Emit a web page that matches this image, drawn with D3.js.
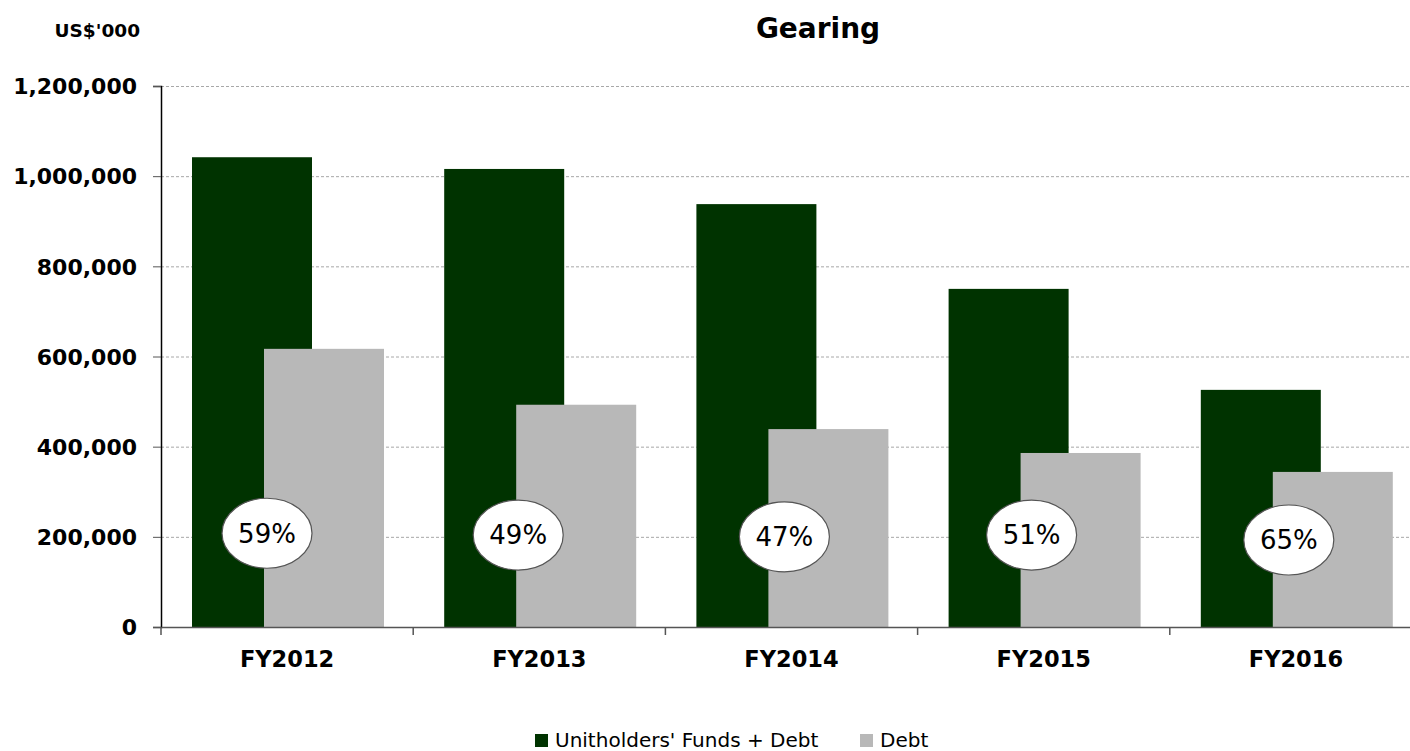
<!DOCTYPE html>
<html>
<head>
<meta charset="utf-8">
<script src="https://cdn.jsdelivr.net/npm/d3@7"></script>
<style>
  body { margin: 0; background: #fff; }
  svg { display: block; }
  text { font-family: "DejaVu Sans", Verdana, sans-serif; fill: #000; }
</style>
</head>
<body>
<svg width="1410" height="751"></svg>
<script>
// Gearing chart (US$'000)
var years = ['FY2012', 'FY2013', 'FY2014', 'FY2015', 'FY2016'];
var fundsPlusDebt = [1042000, 1016000, 938000, 750000, 526000];
var debt = [617000, 493000, 439000, 386000, 344000];
var gearingLabels = ['59%', '49%', '47%', '51%', '65%'];
var yTicks = [0, 200000, 400000, 600000, 800000, 1000000, 1200000];

// label bubbles sit around the 200,000 line, nudged a little per bar
var bubbleAt = [208000, 204000, 200000, 204000, 193000];
var bubbleNudge = [3, 2, 16, 11, 16];

var svg = d3.select("svg");

// plot box (note: "top" is taken by window.top)
var plotLeft = 161, plotRight = 1422, plotTop = 86, plotBottom = 627;

var x = d3.scaleBand().domain(years).range([plotLeft, plotRight]);
var y = d3.scaleLinear().domain([0, 1200000]).range([plotBottom, plotTop]);

var fmt = d3.format(",");

// gridlines
svg.append("g")
    .selectAll("line")
    .data(yTicks.filter(function (d) { return d > 0; }))
    .enter()
    .append("line")
    .attr("x1", plotLeft).attr("x2", plotRight)
    .attr("y1", function (d) { return y(d) + 0.5; })
    .attr("y2", function (d) { return y(d) + 0.5; })
    .attr("stroke", "#a8a8a8")
    .attr("stroke-width", 1)
    .attr("stroke-dasharray", "3,2");

// bars
var barW = 120, offset = 72, pad = 31;

svg.append("g")
    .selectAll("rect")
    .data(years)
    .enter()
    .append("rect")
    .attr("x", function (d) { return x(d) + pad; })
    .attr("y", function (d, i) { return y(fundsPlusDebt[i]); })
    .attr("width", barW)
    .attr("height", function (d, i) { return plotBottom - y(fundsPlusDebt[i]); })
    .attr("fill", "#003300");

svg.append("g")
    .selectAll("rect")
    .data(years)
    .enter()
    .append("rect")
    .attr("x", function (d) { return x(d) + pad + offset; })
    .attr("y", function (d, i) { return y(debt[i]); })
    .attr("width", barW)
    .attr("height", function (d, i) { return plotBottom - y(debt[i]); })
    .attr("fill", "#b8b8b8");

// y axis
var yAxis = svg.append("g")
    .attr("transform", "translate(" + plotLeft + ",0)")
    .call(d3.axisLeft(y).tickValues(yTicks).tickFormat(fmt).tickSize(8).tickPadding(16));
yAxis.select(".domain").attr("stroke", "#000").attr("stroke-width", 1.5);
yAxis.selectAll(".tick line").attr("stroke", "#555");
yAxis.selectAll("text")
    .style("font-size", "22px")
    .style("font-weight", "bold")
    .attr("fill", "#000")
    .attr("dy", "0.35em");

// x axis
var xAxis = svg.append("g")
    .attr("transform", "translate(0," + plotBottom + ")")
    .call(d3.axisBottom(x).tickSize(0).tickPadding(24));
xAxis.select(".domain").attr("stroke", "#555").attr("stroke-width", 1.5);
xAxis.selectAll("text")
    .style("font-size", "22.5px")
    .style("font-weight", "bold")
    .attr("fill", "#000");

// category separators
svg.append("g")
    .selectAll("line")
    .data(years)
    .enter()
    .append("line")
    .attr("x1", function (d) { return x(d); })
    .attr("x2", function (d) { return x(d); })
    .attr("y1", plotBottom)
    .attr("y2", plotBottom + 8)
    .attr("stroke", "#555")
    .attr("stroke-width", 1.5);

// gearing bubbles
var bubbles = svg.append("g")
    .selectAll("g")
    .data(years)
    .enter()
    .append("g")
    .attr("transform", function (d, i) {
        return "translate(" + (x(d) + pad + offset + bubbleNudge[i]) + "," + y(bubbleAt[i]) + ")";
    });

bubbles.append("ellipse")
    .attr("rx", 45)
    .attr("ry", 35)
    .attr("fill", "#fff")
    .attr("stroke", "#555")
    .attr("stroke-width", 1.2);

bubbles.append("text")
    .attr("text-anchor", "middle")
    .attr("dy", "0.36em")
    .style("font-size", "26px")
    .text(function (d, i) { return gearingLabels[i]; });

// titles
svg.append("text")
    .attr("x", 818)
    .attr("y", 38)
    .attr("text-anchor", "middle")
    .style("font-size", "28px")
    .style("font-weight", "bold")
    .text("Gearing");

svg.append("text")
    .attr("x", 140)
    .attr("y", 37)
    .attr("text-anchor", "end")
    .style("font-size", "18.5px")
    .style("font-weight", "bold")
    .text("US$'000");

// legend
var legendItems = [
    { label: "Unitholders' Funds + Debt", color: "#003300", x: 535 },
    { label: "Debt", color: "#b8b8b8", x: 860 }
];

var legend = svg.append("g")
    .selectAll("g")
    .data(legendItems)
    .enter()
    .append("g")
    .attr("transform", function (d) { return "translate(" + d.x + ",734)"; });

legend.append("rect")
    .attr("width", 13)
    .attr("height", 13)
    .attr("fill", function (d) { return d.color; });

legend.append("text")
    .attr("x", 20)
    .attr("y", 13)
    .style("font-size", "20px")
    .attr("fill", "#000")
    .text(function (d) { return d.label; });
</script>
</body>
</html>
